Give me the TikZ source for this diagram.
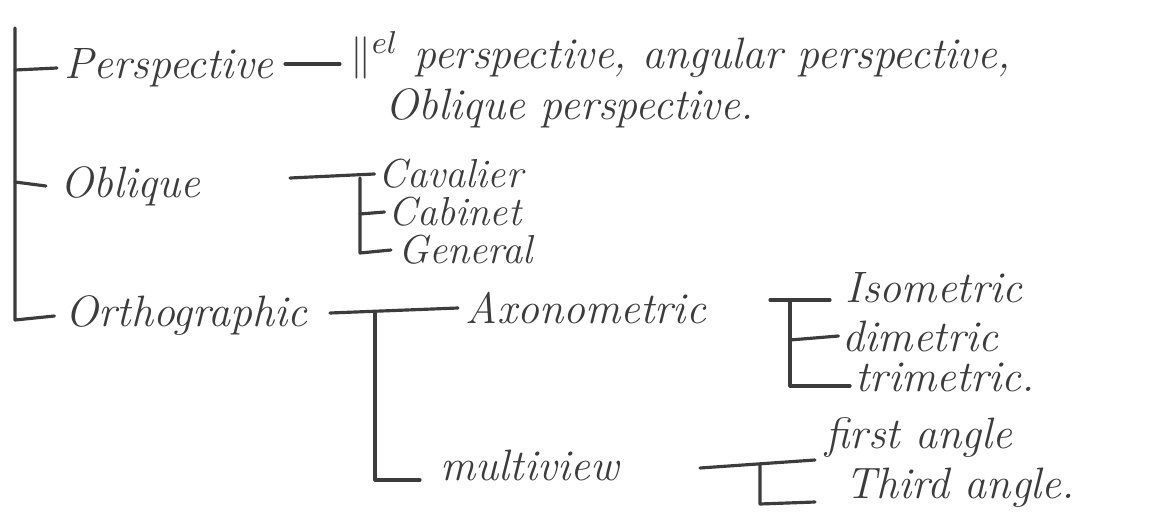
\documentclass[tikz,border=0pt]{standalone}
\usepackage{amsmath}
\usetikzlibrary{positioning}
\definecolor{pencil}{RGB}{60,60,60}
\tikzset{leaf node/.style={anchor=west,inner sep=0pt,text=pencil,font=\itshape\fontsize{12.5}{15}\selectfont} }
\tikzset{stack node/.style={leaf node,font=\itshape\fontsize{11.5}{13}\selectfont} }
\tikzset{tree line/.style={draw=pencil,line width=0.9pt,line cap=round,line join=round} }

\begin{document}
\begin{tikzpicture}[x=0.01cm,y=-0.01cm]
  \useasboundingbox (0,0) rectangle (1151,512);

  % first level
  \node[leaf node] (persp) at (64,68) {Perspective};
  \node[leaf node] (obl) at (60,186) {Oblique};
  \node[leaf node] (ortho) at (65,316) {Orthographic};

  % perspective kinds
  \node[leaf node] (perspA) at (350,55) {$\parallel^{el}$ perspective, angular perspective,};
  \node[leaf node] (perspB) at (385,108) {Oblique perspective.};

  % oblique kinds
  \node[stack node] (cav) at (378,174) {Cavalier};
  \node[stack node] (cab) at (388,212) {Cabinet};
  \node[stack node] (gen) at (398,250) {General};

  % orthographic kinds
  \node[leaf node] (axo) at (465,308) {Axonometric};
  \node[leaf node] (multi) at (440,465) {multiview};
  \node[leaf node] (iso) at (845,288) {Isometric};
  \node[leaf node] (dim) at (842,336) {dimetric};
  \node[leaf node] (tri) at (855,377) {trimetric.};
  \node[leaf node] (first) at (825,438) {first angle};
  \node[leaf node] (third) at (845,488) {Third angle.};

  % trunk
  \coordinate (top) at (15,28);
  \coordinate (t1) at (15,70);
  \coordinate (t2) at (15,182);
  \coordinate (t3) at (15,320);
  \draw[tree line] (top) -- (t3) -- ([xshift=-3pt]ortho.west);
  \draw[tree line] (t1) -- ([xshift=-2pt]persp.west);
  \draw[tree line] (t2) -- ([xshift=-4pt]obl.west);

  % perspective dash
  \coordinate (p1) at (285,64);
  \coordinate (p2) at (340,64);
  \draw[tree line] (p1) -- (p2);

  % oblique bracket
  \coordinate (o1) at (290,178);
  \coordinate (o2) at (360,178);
  \coordinate (o3) at (360,214);
  \coordinate (o4) at (360,253);
  \draw[tree line] (o1) -- ([xshift=-1pt]cav.west);
  \draw[tree line] (o2) -- (o4) -- ([xshift=-2pt]gen.west);
  \draw[tree line] (o3) -- ([xshift=-1pt]cab.west);

  % orthographic bracket
  \coordinate (r1) at (330,313);
  \coordinate (r2) at (375,313);
  \coordinate (r3) at (375,480);
  \draw[tree line] (r1) -- ([xshift=-2pt]axo.west);
  \draw[tree line] (r2) -- (r3) -- (420,480);

  % axonometric bracket
  \coordinate (a1) at (770,300);
  \coordinate (a2) at (790,300);
  \coordinate (a3) at (790,340);
  \coordinate (a4) at (790,386);
  \draw[tree line] (a1) -- (830,300);
  \draw[tree line] (a2) -- (a4) -- (850,386);
  \draw[tree line] (a3) -- ([xshift=-1pt]dim.west);

  % multiview bracket
  \coordinate (m1) at (700,468);
  \coordinate (m2) at (815,460);
  \coordinate (m3) at (760,464);
  \coordinate (m4) at (760,504);
  \draw[tree line] (m1) -- (m2);
  \draw[tree line] (m3) -- (m4) -- (815,502);
\end{tikzpicture}
\end{document}
